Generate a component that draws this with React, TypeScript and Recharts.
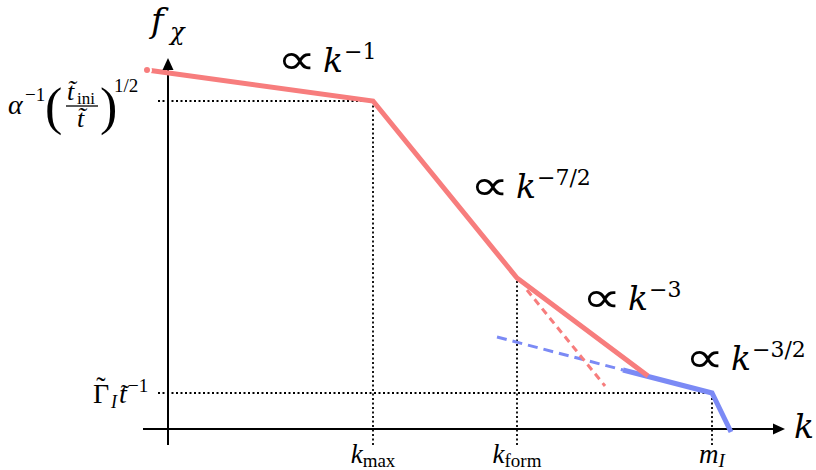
import React from 'react';
import { ComposedChart, Line, XAxis, YAxis, ReferenceLine, ReferenceDot } from 'recharts';

// schematic breakpoints on the k axis
const kMax = 20.5;
const kForm = 34.9;
const mI = 54.4;
// levels on the f axis
const fPeak = 32.8;
const fGamma = 3.6;

// spectrum pieces (log-log, schematic)
const redSolid = [
  { x: -2.1, y: 35.9 },
  { x: kMax, y: fPeak },
  { x: kForm, y: 15.1 },
  { x: 48.0, y: 5.3 },
];
const redDashed = [
  { x: 35.9, y: 13.9 },
  { x: 43.7, y: 4.3 },
];
const blueDashed = [
  { x: 32.9, y: 9.2 },
  { x: 45.5, y: 5.9 },
];
const blueSolid = [
  { x: 45.5, y: 5.9 },
  { x: mI, y: fGamma },
  { x: 56.3, y: -0.3 },
];

const slopes = ['\u22121', '\u22127/2', '\u22123', '\u22123/2'];
const tickSubs = ['max', 'form'];

const RED = '#f77d7d';
const BLUE = '#7b8af5';
const SERIF = '"Liberation Serif", serif';
const DJ = '"DejaVu Serif", serif';
const SYM = '"DejaVu Sans", sans-serif';

const W = 816;
const H = 470;

const at = (draw: (cx: number, cy: number) => React.ReactNode) => (p: any) => <g>{draw(p.cx, p.cy)}</g>;

// "∝ k^{exp}" label, anchored at start of ∝ and text baseline
const propLabel = (exp: string) =>
  at((cx, cy) => (
    <g fill="#000">
      <text transform={`translate(${cx},${cy + 2}) scale(1.28,1)`} x={0} y={0} fontFamily={SYM} fontSize={43}>{'\u221D'}</text>
      <text x={cx + 46} y={cy} fontFamily={DJ} fontSize={33} fontStyle="italic">k</text>
      <text x={cx + 67} y={cy - 13} fontFamily={DJ} fontSize={22}>{exp}</text>
    </g>
  ));

const tickLabel = (main: string, sub: string, subItalic = false) =>
  at((cx, cy) => (
    <text x={cx} y={cy + 34} textAnchor="middle" fontFamily={SERIF} fill="#000">
      <tspan fontSize={27} fontStyle="italic">{main}</tspan>
      <tspan fontSize={19} dy={4} fontStyle={subItalic ? 'italic' : 'normal'}>{sub}</tspan>
    </text>
  ));

const dotted = { stroke: '#000', strokeWidth: 1.8, strokeDasharray: '2 2.5' };

export default function App() {
  return (
    <div style={{ position: 'absolute', left: 0, top: 0, width: W, height: H, background: '#fff' }}>
      <ComposedChart width={W} height={H} margin={{ top: 0, right: 0, bottom: 0, left: 0 }}>
        <XAxis type="number" dataKey="x" domain={[-16.8, 64.8]} allowDataOverflow hide />
        <YAxis type="number" dataKey="y" domain={[-4.1, 42.9]} allowDataOverflow hide />

        {/* guide lines */}
        <ReferenceLine segment={[{ x: -1.0, y: fPeak }, { x: kMax, y: fPeak }]} {...dotted} />
        <ReferenceLine segment={[{ x: kMax, y: -1.6 }, { x: kMax, y: fPeak }]} {...dotted} />
        <ReferenceLine segment={[{ x: kForm, y: -1.6 }, { x: kForm, y: redSolid[2].y }]} {...dotted} />
        <ReferenceLine segment={[{ x: -1.0, y: fGamma }, { x: mI, y: fGamma }]} {...dotted} />
        <ReferenceLine segment={[{ x: mI, y: -1.6 }, { x: mI, y: fGamma }]} {...dotted} />

        {/* axes */}
        <ReferenceLine segment={[{ x: -2.5, y: 0 }, { x: 60.8, y: 0 }]} stroke="#000" strokeWidth={2} />
        <ReferenceLine segment={[{ x: 0, y: -1.6 }, { x: 0, y: 36.2 }]} stroke="#000" strokeWidth={2} />
        <ReferenceDot x={61.7} y={0} shape={at((cx, cy) => (
          <polygon points={`${cx},${cy} ${cx - 12},${cy - 5.5} ${cx - 12},${cy + 5.5}`} fill="#000" />
        ))} />
        <ReferenceDot x={0} y={37.1} shape={at((cx, cy) => (
          <polygon points={`${cx},${cy} ${cx - 5.5},${cy + 12} ${cx + 5.5},${cy + 12}`} fill="#000" />
        ))} />

        <Line data={blueDashed} dataKey="y" type="linear" stroke={BLUE} strokeWidth={3} strokeDasharray="10 6" dot={false} isAnimationActive={false} />
        <Line data={redDashed} dataKey="y" type="linear" stroke={RED} strokeWidth={3} strokeDasharray="7 5" dot={false} isAnimationActive={false} />
        <Line data={blueSolid} dataKey="y" type="linear" stroke={BLUE} strokeWidth={5} dot={false} isAnimationActive={false} />
        <Line data={redSolid} dataKey="y" type="linear" stroke={RED} strokeWidth={5} dot={false} isAnimationActive={false} />

        {/* axis titles */}
        <ReferenceDot x={61.7} y={0} shape={at((cx, cy) => (
          <text x={cx + 9} y={cy + 9} fontFamily={DJ} fontSize={33} fontStyle="italic">k</text>
        ))} />
        <ReferenceDot x={0} y={37.1} shape={at((cx, cy) => (
          <g fontFamily={DJ} fontStyle="italic" fill="#000">
            <text x={cx - 17} y={cy - 26} fontSize={34}>f</text>
            <text x={cx + 2} y={cy - 18} fontSize={24}>{'\u03C7'}</text>
          </g>
        ))} />

        {/* tick labels */}
        <ReferenceDot x={kMax} y={0} shape={tickLabel('k', tickSubs[0])} />
        <ReferenceDot x={kForm} y={0} shape={tickLabel('k', tickSubs[1])} />
        <ReferenceDot x={mI} y={0} shape={tickLabel('m', 'I', true)} />

        {/* level labels */}
        <ReferenceDot x={0} y={fGamma} shape={at((cx, cy) => (
          <g fontFamily={SERIF} fill="#000">
            <text x={cx - 75} y={cy + 10} fontSize={28}>{'\u0393'}</text>
            <text x={cx - 67} y={cy + 3} fontSize={28} textAnchor="middle">{'\u02DC'}</text>
            <text x={cx - 57} y={cy + 15} fontSize={18} fontStyle="italic">I</text>
            <text x={cx - 49} y={cy + 10} fontSize={28} fontStyle="italic">t</text>
            <text x={cx - 43} y={cy + 9} fontSize={26} textAnchor="middle">{'\u02DC'}</text>
            <text x={cx - 40} y={cy - 1} fontSize={19}>{'\u22121'}</text>
          </g>
        ))} />
        <ReferenceDot x={0} y={fPeak} shape={at((cx, cy) => (
          <g fontFamily={SERIF} fill="#000">
            <text x={cx - 160} y={cy + 13} fontSize={28} fontStyle="italic">{'\u03B1'}</text>
            <text x={cx - 143} y={cy} fontSize={19}>{'\u22121'}</text>
            <text x={cx - 123} y={cy + 23} fontSize={52}>(</text>
            <text x={cx - 101} y={cy - 1} fontSize={26} fontStyle="italic">{'t\u0303'}</text>
            <text x={cx - 91} y={cy + 3} fontSize={17}>ini</text>
            <line x1={cx - 102} x2={cx - 70} y1={cy + 5} y2={cy + 5} stroke="#000" strokeWidth={1.3} />
            <text x={cx - 91} y={cy + 26} fontSize={26} fontStyle="italic">{'t\u0303'}</text>
            <text x={cx - 68} y={cy + 23} fontSize={52}>)</text>
            <text x={cx - 54} y={cy - 9} fontSize={19}>1/2</text>
          </g>
        ))} />

        {/* slope annotations */}
        <ReferenceDot x={10.9} y={35.7} shape={propLabel(slopes[0])} />
        <ReferenceDot x={30.2} y={23.1} shape={propLabel(slopes[1])} />
        <ReferenceDot x={41.4} y={11.9} shape={propLabel(slopes[2])} />
        <ReferenceDot x={51.7} y={5.9} shape={propLabel(slopes[3])} />
      </ComposedChart>
    </div>
  );
}
